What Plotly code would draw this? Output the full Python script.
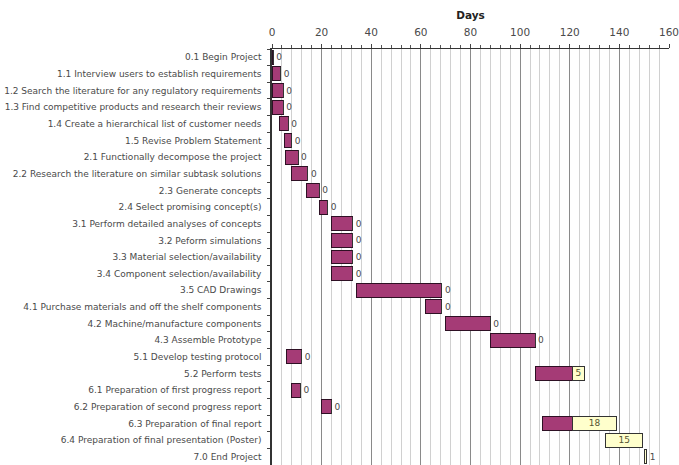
import plotly.graph_objects as go

# Project schedule: start day, days completed, days remaining
tasks = [
    "0.1 Begin Project",
    "1.1 Interview users to establish requirements",
    "1.2 Search the literature for any regulatory requirements",
    "1.3 Find competitive products and research their reviews",
    "1.4 Create a hierarchical list of customer needs",
    "1.5 Revise Problem Statement",
    "2.1 Functionally decompose the project",
    "2.2 Research the literature on similar subtask solutions",
    "2.3 Generate concepts",
    "2.4 Select promising concept(s)",
    "3.1 Perform detailed analyses of concepts",
    "3.2 Peform simulations",
    "3.3 Material selection/availability",
    "3.4 Component selection/availability",
    "3.5 CAD Drawings",
    "4.1 Purchase materials and off the shelf components",
    "4.2 Machine/manufacture components",
    "4.3 Assemble Prototype",
    "5.1 Develop testing protocol",
    "5.2 Perform tests",
    "6.1 Preparation of first progress report",
    "6.2 Preparation of second progress report",
    "6.3 Preparation of final report",
    "6.4 Preparation of final presentation (Poster)",
    "7.0 End Project",
]
start_day = [0, 0, 0, 0, 3, 5, 5.5, 8, 14, 19,
             24, 24, 24, 24, 34, 62, 70, 88, 6, 106,
             8, 20, 109, 134.5, 150]
days_done = [0.5, 3.5, 4.5, 4.5, 3.5, 3, 5, 6.5, 5, 3.5,
             8.5, 8.5, 8.5, 8.5, 34.5, 6.5, 18, 18, 6, 15,
             3.5, 4, 12, 0, 0]
days_left = [0, 0, 0, 0, 0, 0, 0, 0, 0, 0,
             0, 0, 0, 0, 0, 0, 0, 0, 0, 5,
             0, 0, 18, 15, 1]

x_ticks = [0, 20, 40, 60, 80, 100, 120, 140, 160]

TXT = "#4a4a4a"
FONT = "DejaVu Sans"
LBL = 9

label_pos = ["inside" if v >= 5 else "outside" for v in days_left]

fig = go.Figure()
fig.add_trace(go.Bar(
    y=tasks, x=start_day, orientation="h",
    marker=dict(color="rgba(0,0,0,0)", line=dict(width=0)),
    hoverinfo="skip", showlegend=False,
))
fig.add_trace(go.Bar(
    y=tasks, x=days_done, orientation="h",
    marker=dict(color="#A53B76", line=dict(color="#2E1024", width=1)),
    showlegend=False,
))
fig.add_trace(go.Bar(
    y=tasks, x=days_left, orientation="h",
    marker=dict(color="#FFFFCC", line=dict(color="#333333", width=1)),
    text=[str(v) for v in days_left],
    textposition=label_pos,
    insidetextanchor="middle",
    constraintext="none",
    cliponaxis=False,
    textfont=dict(family=FONT, size=LBL, color=TXT),
    insidetextfont=dict(family=FONT, size=LBL, color="#555533"),
    outsidetextfont=dict(family=FONT, size=LBL, color=TXT),
    showlegend=False,
))

fig.update_layout(
    barmode="stack",
    bargap=0.16,
    width=679, height=465,
    margin=dict(l=271.5, r=7.5, t=48.7, b=0, pad=0),
    paper_bgcolor="white",
    plot_bgcolor="white",
    font=dict(family=FONT, color=TXT),
)
fig.update_xaxes(
    side="top",
    range=[0, 160],
    tickvals=x_ticks,
    ticktext=[str(v) for v in x_ticks],
    tickfont=dict(family=FONT, size=10.5, color=TXT),
    ticklabeloverflow="allow",
    ticklabelstandoff=4,
    title=dict(text="<b>Days</b>", font=dict(family=FONT, size=10.5, color="#222222"), standoff=4),
    showgrid=True, gridcolor="#8A8A8A", gridwidth=1.3,
    minor=dict(dtick=4, tick0=0, showgrid=True, gridcolor="#D0D0D0", gridwidth=1,
               ticks="outside", ticklen=3, tickcolor="#555555"),
    ticks="outside", ticklen=4, tickcolor="#444444",
    showline=True, linecolor="#333333", linewidth=1.2,
    zeroline=False,
    fixedrange=True,
)
fig.update_yaxes(
    autorange="reversed",
    tickfont=dict(family=FONT, size=LBL, color=TXT),
    ticks="outside", ticklen=3, tickcolor="#444444", tickson="boundaries",
    ticklabelstandoff=7,
    showline=True, linecolor="#333333", linewidth=1.5,
    showgrid=False,
    fixedrange=True,
)

fig.write_html("out.html")
